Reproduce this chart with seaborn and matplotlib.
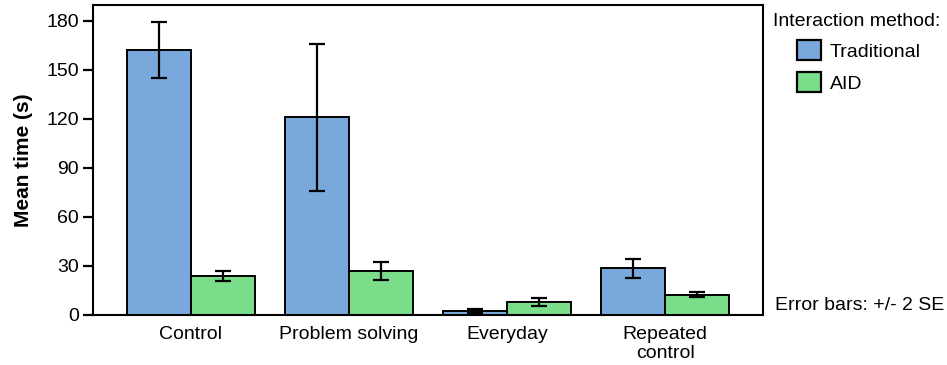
import numpy as np
import pandas as pd
import matplotlib
matplotlib.use("Agg")
import matplotlib.pyplot as plt
import seaborn as sns

sns.set_style("white")
plt.rcParams['font.family'] = ['Liberation Sans', 'DejaVu Sans']
plt.rcParams.update({"text.color": "black", "axes.labelcolor": "black",
                     "xtick.color": "black", "ytick.color": "black"})

# data
conditions = ["Control", "Problem solving", "Everyday", "Repeated\ncontrol"]
methods = ["Traditional", "AID"]
trad_mean = [162, 121, 2.5, 28.5]
aid_mean = [24, 27, 8, 12.5]
trad_err = [17, 45, 1, 6]
aid_err = [3, 5.5, 2.5, 1.5]

df = pd.DataFrame({
    "condition": conditions * 2,
    "method": [methods[0]] * 4 + [methods[1]] * 4,
    "mean": trad_mean + aid_mean,
    "err": trad_err + aid_err,
})

fig = plt.figure(figsize=(9.47, 3.65), dpi=100)
ax = fig.add_axes([0.0982, 0.137, 0.7075, 0.849])

sns.barplot(data=df, x="condition", y="mean", hue="method",
            palette=["#79A9DC", "#79DD8A"], saturation=1, width=0.81,
            edgecolor="black", linewidth=1.4, errorbar=None, ax=ax)

# error bars at bar centres
errs = trad_err + aid_err
means = trad_mean + aid_mean
for p, m, e in zip(ax.patches[:8], means, errs):
    xc = p.get_x() + p.get_width() / 2
    ax.errorbar(xc, m, yerr=e, fmt="none", ecolor="black",
                elinewidth=1.6, capsize=6, capthick=1.6, zorder=5)

ax.set_xlim(-0.62, 3.62)
ax.set_ylim(0, 189.6)
ax.set_yticks([0, 30, 60, 90, 120, 150, 180])
ax.tick_params(axis="y", labelsize=14, length=7, width=1.6, direction="out",
               left=True, pad=3)
ax.tick_params(axis="x", labelsize=14, length=0, pad=8)
for t in ax.get_xticklabels():
    t.set_linespacing(1.15)
ax.set_xlabel("")
ax.set_ylabel("Mean time (s)", fontsize=15, fontweight="bold", labelpad=10)
for s in ax.spines.values():
    s.set_linewidth(1.5)
    s.set_color("black")

ax.legend_.remove()
h, l = ax.get_legend_handles_labels()
fig.text(0.816, 0.94, "Interaction method:", fontsize=14, ha="left", va="center")
leg = fig.legend(h, l, loc="upper left", bbox_to_anchor=(0.842, 0.89),
                 frameon=False, fontsize=14, borderpad=0, borderaxespad=0,
                 handlelength=1.2, handleheight=1.2,
                 handletextpad=0.45, labelspacing=0.6)
for hd in leg.legend_handles:
    hd.set_linewidth(1.6)
fig.text(0.818, 0.163, "Error bars: +/- 2 SE", fontsize=14, ha="left", va="center")

fig.savefig("out.png", dpi=100)
